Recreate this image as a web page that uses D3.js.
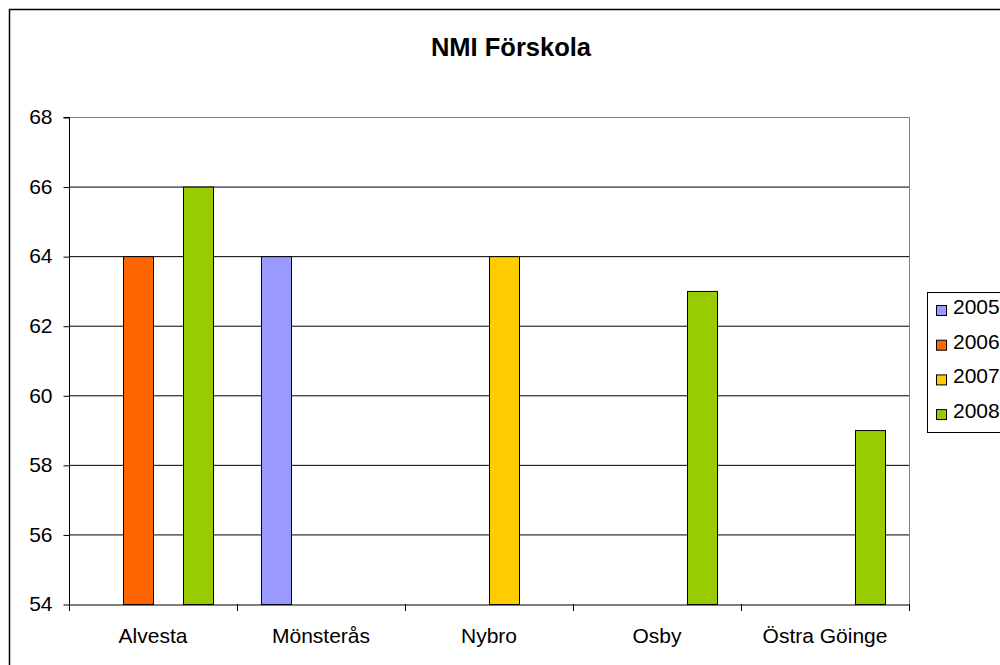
<!DOCTYPE html>
<html><head><meta charset="utf-8">
<script src="https://cdn.jsdelivr.net/npm/d3@7"></script>
<style>body{margin:0;background:#fff;} svg{display:block;font-family:"Liberation Sans",Arial,sans-serif;}</style>
</head><body>
<script>
const categories = ["Alvesta","Mönsterås","Nybro","Osby","Östra Göinge"];
const seriesNames = ["2005","2006","2007","2008"];
const colors = ["#9999FF","#FF6600","#FFCC00","#99CC00"];
const v2005 = [null,64,null,null,null];
const v2006 = [64,null,null,null,null];
const v2007 = [null,null,64,null,null];
const v2008 = [66,null,null,63,59];
const yTicks = [54,56,58,60,62,64,66,68];
const title = "NMI Förskola";

const series = [v2005,v2006,v2007,v2008];
const W=1000,H=665;
const svg=d3.select("body").append("svg").attr("width",W).attr("height",H);
svg.append("rect").attr("x",9.5).attr("y",9.5).attr("width",1010).attr("height",680)
  .attr("fill","#fff").attr("stroke","#000").attr("stroke-width",1.5);

const L=69,R=909,T=117,B=604;
const x=d3.scaleBand().domain(categories).range([L,R]);
const y=d3.scaleLinear().domain([54,68]).range([B,T]);
const gap=24, bw=(x.bandwidth()-2*gap)/4;
const FS=21;

// gridlines
svg.append("g").selectAll("line").data(yTicks.filter(t=>t>54)).join("line")
  .attr("x1",L).attr("x2",R).attr("y1",d=>y(d)+0.5).attr("y2",d=>y(d)+0.5)
  .attr("stroke",d=>d===68?"#808080":"#000").attr("stroke-width",1);
svg.append("line").attr("x1",R+0.5).attr("x2",R+0.5).attr("y1",T).attr("y2",B).attr("stroke","#808080");

// bars
series.forEach((s,i)=>{
  svg.append("g").selectAll("rect").data(categories.map((c,j)=>({c,v:s[j]})).filter(d=>d.v!=null)).join("rect")
    .attr("x",d=>x(d.c)+gap+i*bw+0.5).attr("width",bw)
    .attr("y",d=>y(d.v)+0.5).attr("height",d=>y(54)-y(d.v))
    .attr("fill",colors[i]).attr("stroke","#000").attr("stroke-width",1);
});

// axes
const ya=svg.append("g").attr("transform",`translate(${L+0.5},0.5)`)
  .call(d3.axisLeft(y).tickValues(yTicks).tickSize(6).tickPadding(11).tickFormat(d3.format("d")));
ya.selectAll("text").attr("font-size",FS).attr("fill","#000").attr("font-family","Liberation Sans, Arial, sans-serif").attr("dy","0.3em");
ya.selectAll("line,path").attr("stroke","#000");
ya.select(".domain").attr("d",`M-6,${T}H0V${B}`);

const xa=svg.append("g").attr("transform",`translate(0,${B+0.5})`)
  .call(d3.axisBottom(x).tickSize(0).tickPadding(0).tickSizeOuter(0));
xa.selectAll("text").attr("font-size",FS).attr("fill","#000").attr("font-family","Liberation Sans, Arial, sans-serif").attr("dy",null).attr("y",38);
xa.select(".domain").attr("stroke","#000");
svg.append("g").selectAll("line").data(d3.range(categories.length+1)).join("line")
  .attr("x1",d=>L+d*x.step()+0.5).attr("x2",d=>L+d*x.step()+0.5)
  .attr("y1",B).attr("y2",B+7).attr("stroke","#000");

// title
svg.append("text").attr("x",511).attr("y",56).attr("text-anchor","middle")
  .attr("font-size",25.5).attr("font-weight","bold").text(title);

// legend
svg.append("rect").attr("x",927.5).attr("y",292.5).attr("width",100).attr("height",140)
  .attr("fill","#fff").attr("stroke","#000");
const lg=svg.append("g").selectAll("g").data(seriesNames).join("g")
  .attr("transform",(d,i)=>`translate(936,${305+i*34.7})`);
lg.append("rect").attr("x",0.5).attr("y",0.5).attr("width",10).attr("height",10)
  .attr("fill",(d,i)=>colors[i]).attr("stroke","#000");
lg.append("text").attr("x",17).attr("y",9).attr("font-size",FS).text(d=>d);
</script>
</body></html>
